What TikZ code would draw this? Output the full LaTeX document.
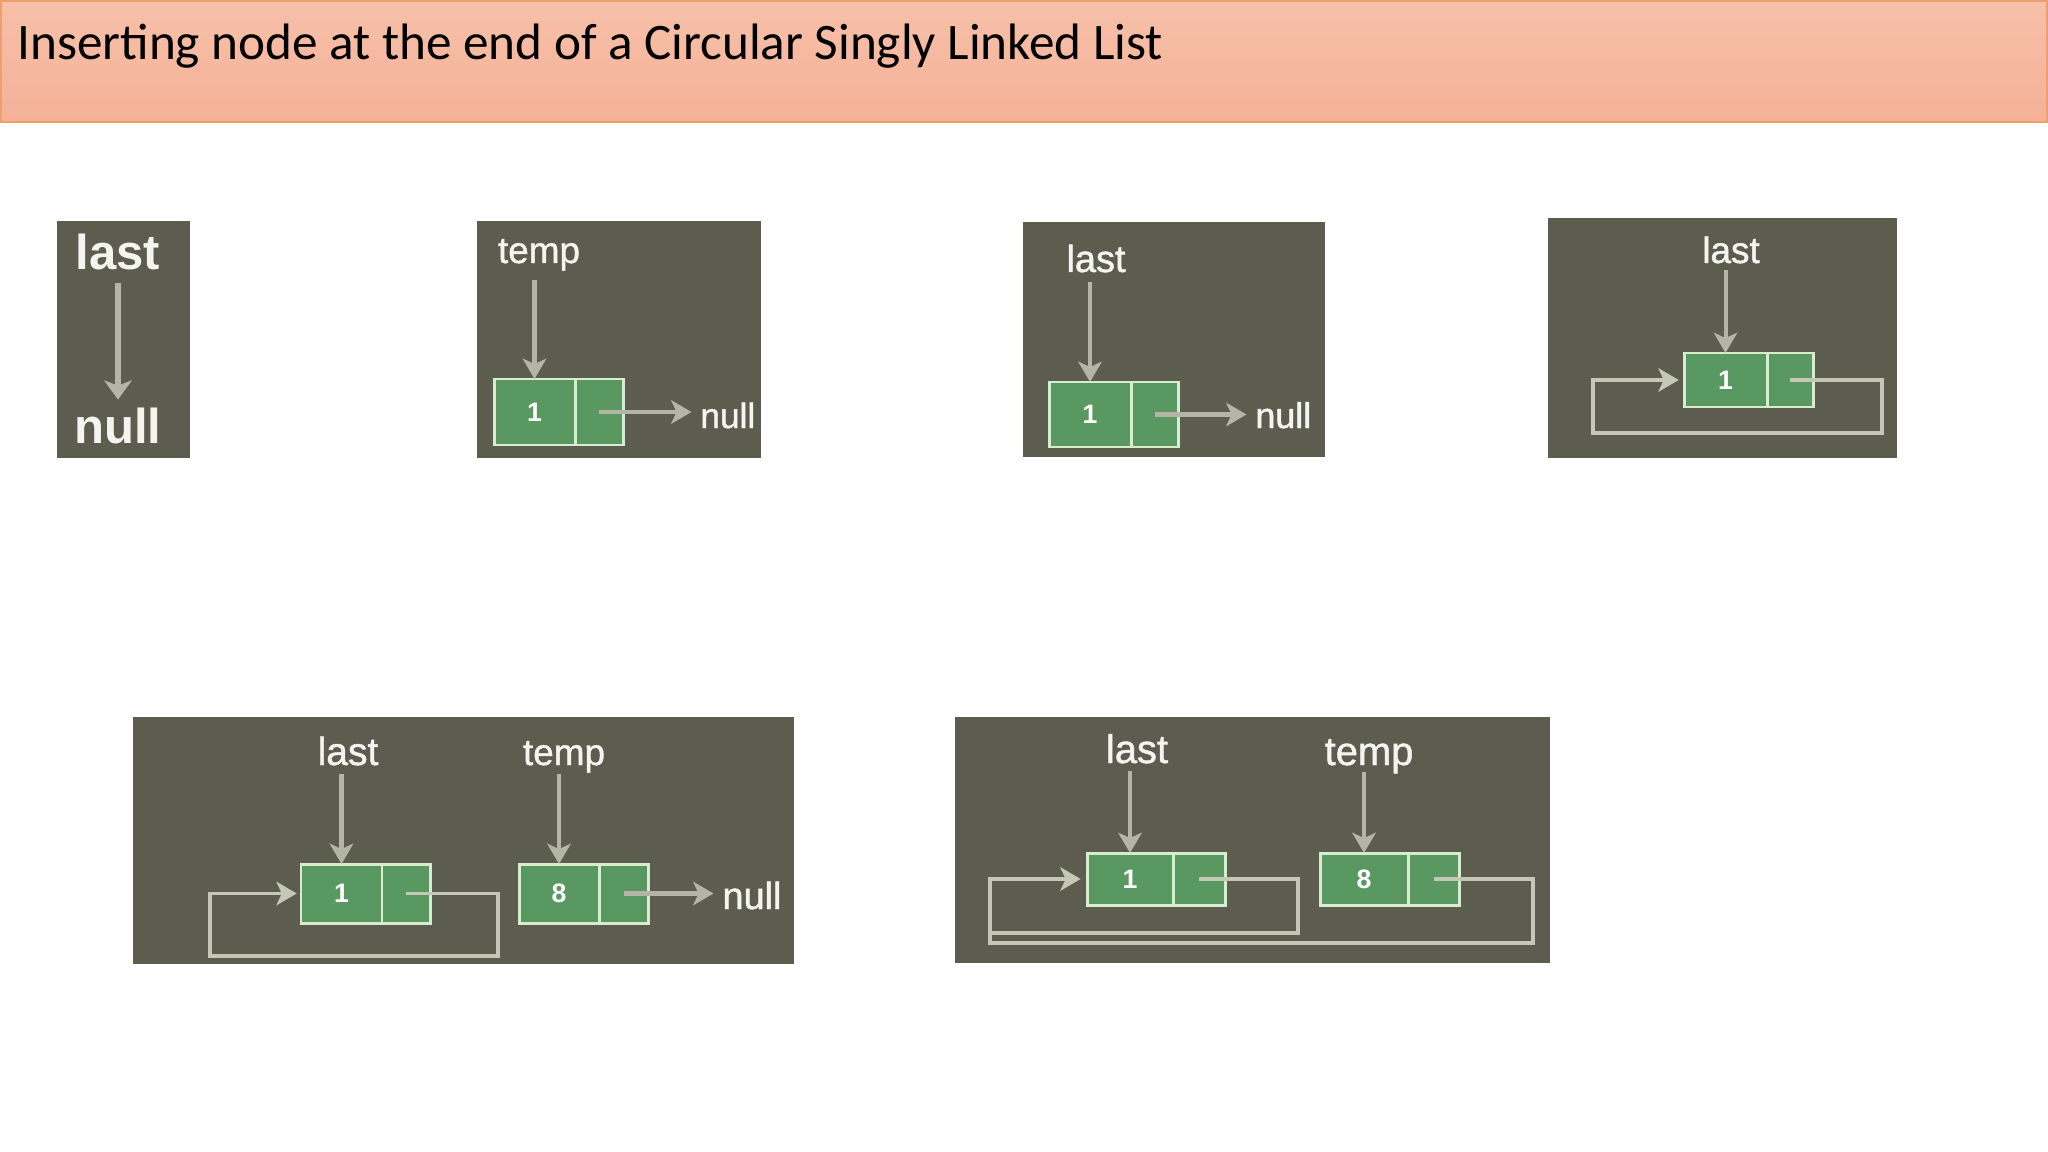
\documentclass[tikz,border=0pt]{standalone}
\usepackage{fontspec}
\setmainfont{Carlito}
\newfontfamily\lblfont[FakeBold=1.2]{Liberation Sans}
\newfontfamily\lblbfont{Liberation Sans}
\usetikzlibrary{arrows.meta}
\definecolor{hdrtop}{HTML}{F7C0A9}
\definecolor{hdrbot}{HTML}{F4B197}
\definecolor{hdrline}{HTML}{EE9F6C}
\definecolor{panelbg}{HTML}{5C5D4F}
\definecolor{cellfill}{HTML}{5A9862}
\definecolor{cellline}{HTML}{D8EDD0}
\definecolor{ptrcol}{HTML}{B4B5A6}
\definecolor{loopcol}{HTML}{C6C8B7}
\definecolor{lbltext}{HTML}{F4F4F0}
\def\pxu{0.46875pt}
\begin{document}
\begin{tikzpicture}[x=0.46875pt,y=-0.46875pt,
  panel/.style={fill=panelbg},
  cell/.style={draw=cellline, fill=cellfill, line width=1.4pt, inner sep=0pt, outer sep=0pt,
    text=white, font=\lblbfont\bfseries\fontsize{12.5}{12.5}\selectfont},
  cw/.style={minimum width=#1*\pxu},
  ch/.style={minimum height=#1*\pxu},
  lbl/.style={text=lbltext, inner sep=0pt, anchor=base, text depth=0pt,
    font=\lblfont\fontsize{#1}{#1}\selectfont},
  blbl/.style={text=lbltext, inner sep=0pt, anchor=base, text depth=0pt,
    font=\lblbfont\bfseries\fontsize{#1}{#1}\selectfont},
  ptr/.style={draw=ptrcol, line width=1.9pt, -{Stealth[length=9.5pt,width=11pt,inset=2.5pt]}},
  ptrbig/.style={draw=ptrcol, line width=2.8pt, -{Stealth[length=9pt,width=13pt,inset=2.5pt]}},
  loopline/.style={draw=loopcol, line width=1.7pt},
  looparrow/.style={draw=loopcol, line width=1.7pt, -{Stealth[length=9.5pt,width=11pt,inset=2.5pt]}}
]
\useasboundingbox (0,0) rectangle (2048,1152);
\fill[white] (0,0) rectangle (2048,1152);
% header
\shade[top color=hdrtop, bottom color=hdrbot, draw=hdrline, line width=1pt] (0.5,0.5) rectangle (2047.5,122);
\node[anchor=base west, inner sep=0pt, font=\fontsize{24}{29}\selectfont] (title) at (17,60)
  {Inserting node at the end of a Circular Singly Linked List};

% panels
\fill[panel] (57,221) rectangle (190,458);
\fill[panel] (477,221) rectangle (761,458);
\fill[panel] (1023,222) rectangle (1325,457);
\fill[panel] (1548,218) rectangle (1897,458);
\fill[panel] (133,717) rectangle (794,964);
\fill[panel] (955,717) rectangle (1550,963);

% panel 1
\node[blbl=23] (lastA) at (118,270) {last};
\node[blbl=23] (nullA) at (118,443) {null};
\draw[ptrbig, shorten <=6pt, shorten >=3.5pt] (lastA.south) -- (nullA.north);

% panel 2
\node[cell, cw=81, ch=66] (n2a) at (534.5,412) {1};
\node[cell, cw=48, ch=66, anchor=west] (n2b) at (n2a.east) {};
\node[lbl=17.3] (tempB) at (539,263) {temp};
\node[lbl=16.5, anchor=base west] (nullB) at (700,428) {null};
\draw[ptr, shorten <=8pt] (tempB.south -| n2a.north) -- (n2a.north);
\draw[ptr, shorten >=4pt] (n2b.center) -- (n2b.center -| nullB.west);

% panel 3
\node[cell, cw=82, ch=65] (n3a) at (1090,414.5) {1};
\node[cell, cw=47, ch=65, anchor=west] (n3b) at (n3a.east) {};
\node[lbl=17.8] (lastC) at (1096,272) {last};
\node[lbl=16.8, anchor=base west] (nullC) at (1255,428) {null};
\draw[ptr, shorten <=4.5pt] (lastC.south -| n3a.north) -- (n3a.north);
\draw[ptr, shorten >=4pt] (n3b.center) -- (n3b.center -| nullC.west);

% panel 4
\node[cell, cw=83, ch=54] (n4a) at (1725.5,380) {1};
\node[cell, cw=46, ch=54, anchor=west] (n4b) at (n4a.east) {};
\node[lbl=17.3] (lastD) at (1731,263) {last};
\draw[ptr, shorten <=3pt] (lastD.south -| n4a.north) -- (n4a.north);
\coordinate (r4) at (1882,433);
\coordinate (q4) at (1593,433);
\draw[looparrow, shorten >=2.5pt] (n4b.center) -| (r4) -- (q4) |- (n4a.west);

% panel 5
\node[cell, cw=81, ch=59] (n5a) at (341.5,893.5) {1};
\node[cell, cw=48, ch=59, anchor=west] (n5b) at (n5a.east) {};
\node[cell, cw=80, ch=59] (n5c) at (559,893.5) {8};
\node[cell, cw=49, ch=59, anchor=west] (n5d) at (n5c.east) {};
\node[lbl=18.3] (lastE) at (348,765) {last};
\node[lbl=17.3] (tempE) at (564,765) {temp};
\node[lbl=17.8, anchor=base west] (nullE) at (722,909) {null};
\draw[ptr, shorten <=4pt] (lastE.south -| n5a.north) -- (n5a.north);
\draw[ptr, shorten <=4pt] (tempE.south -| n5c.north) -- (n5c.north);
\draw[ptr, shorten >=4pt] (n5d.center) -- (n5d.center -| nullE.west);
\coordinate (r5) at (498,956);
\coordinate (q5) at (210,956);
\draw[looparrow, shorten >=2pt] (n5b.center) -| (r5) -- (q5) |- (n5a.west);

% panel 6
\node[cell, cw=86, ch=52] (n6a) at (1130,879) {1};
\node[cell, cw=52, ch=52, anchor=west] (n6b) at (n6a.east) {};
\node[cell, cw=88, ch=52] (n6c) at (1364,879) {8};
\node[cell, cw=51, ch=52, anchor=west] (n6d) at (n6c.east) {};
\node[lbl=18.7] (lastF) at (1137,763) {last};
\node[lbl=18.7] (tempF) at (1369,765) {temp};
\draw[ptr, shorten <=3.5pt] (lastF.south -| n6a.north) -- (n6a.north);
\draw[ptr, shorten <=3pt] (tempF.south -| n6c.north) -- (n6c.north);
\coordinate (r6a) at (1298,933);
\coordinate (q6a) at (990,933);
\coordinate (r6b) at (1533,943);
\coordinate (q6b) at (990,943);
\draw[loopline] (n6b.center) -| (r6a) -- (q6a);
\draw[looparrow, shorten >=3pt] (n6d.center) -| (r6b) -- (q6b) |- (n6a.west);
\end{tikzpicture}
\end{document}
